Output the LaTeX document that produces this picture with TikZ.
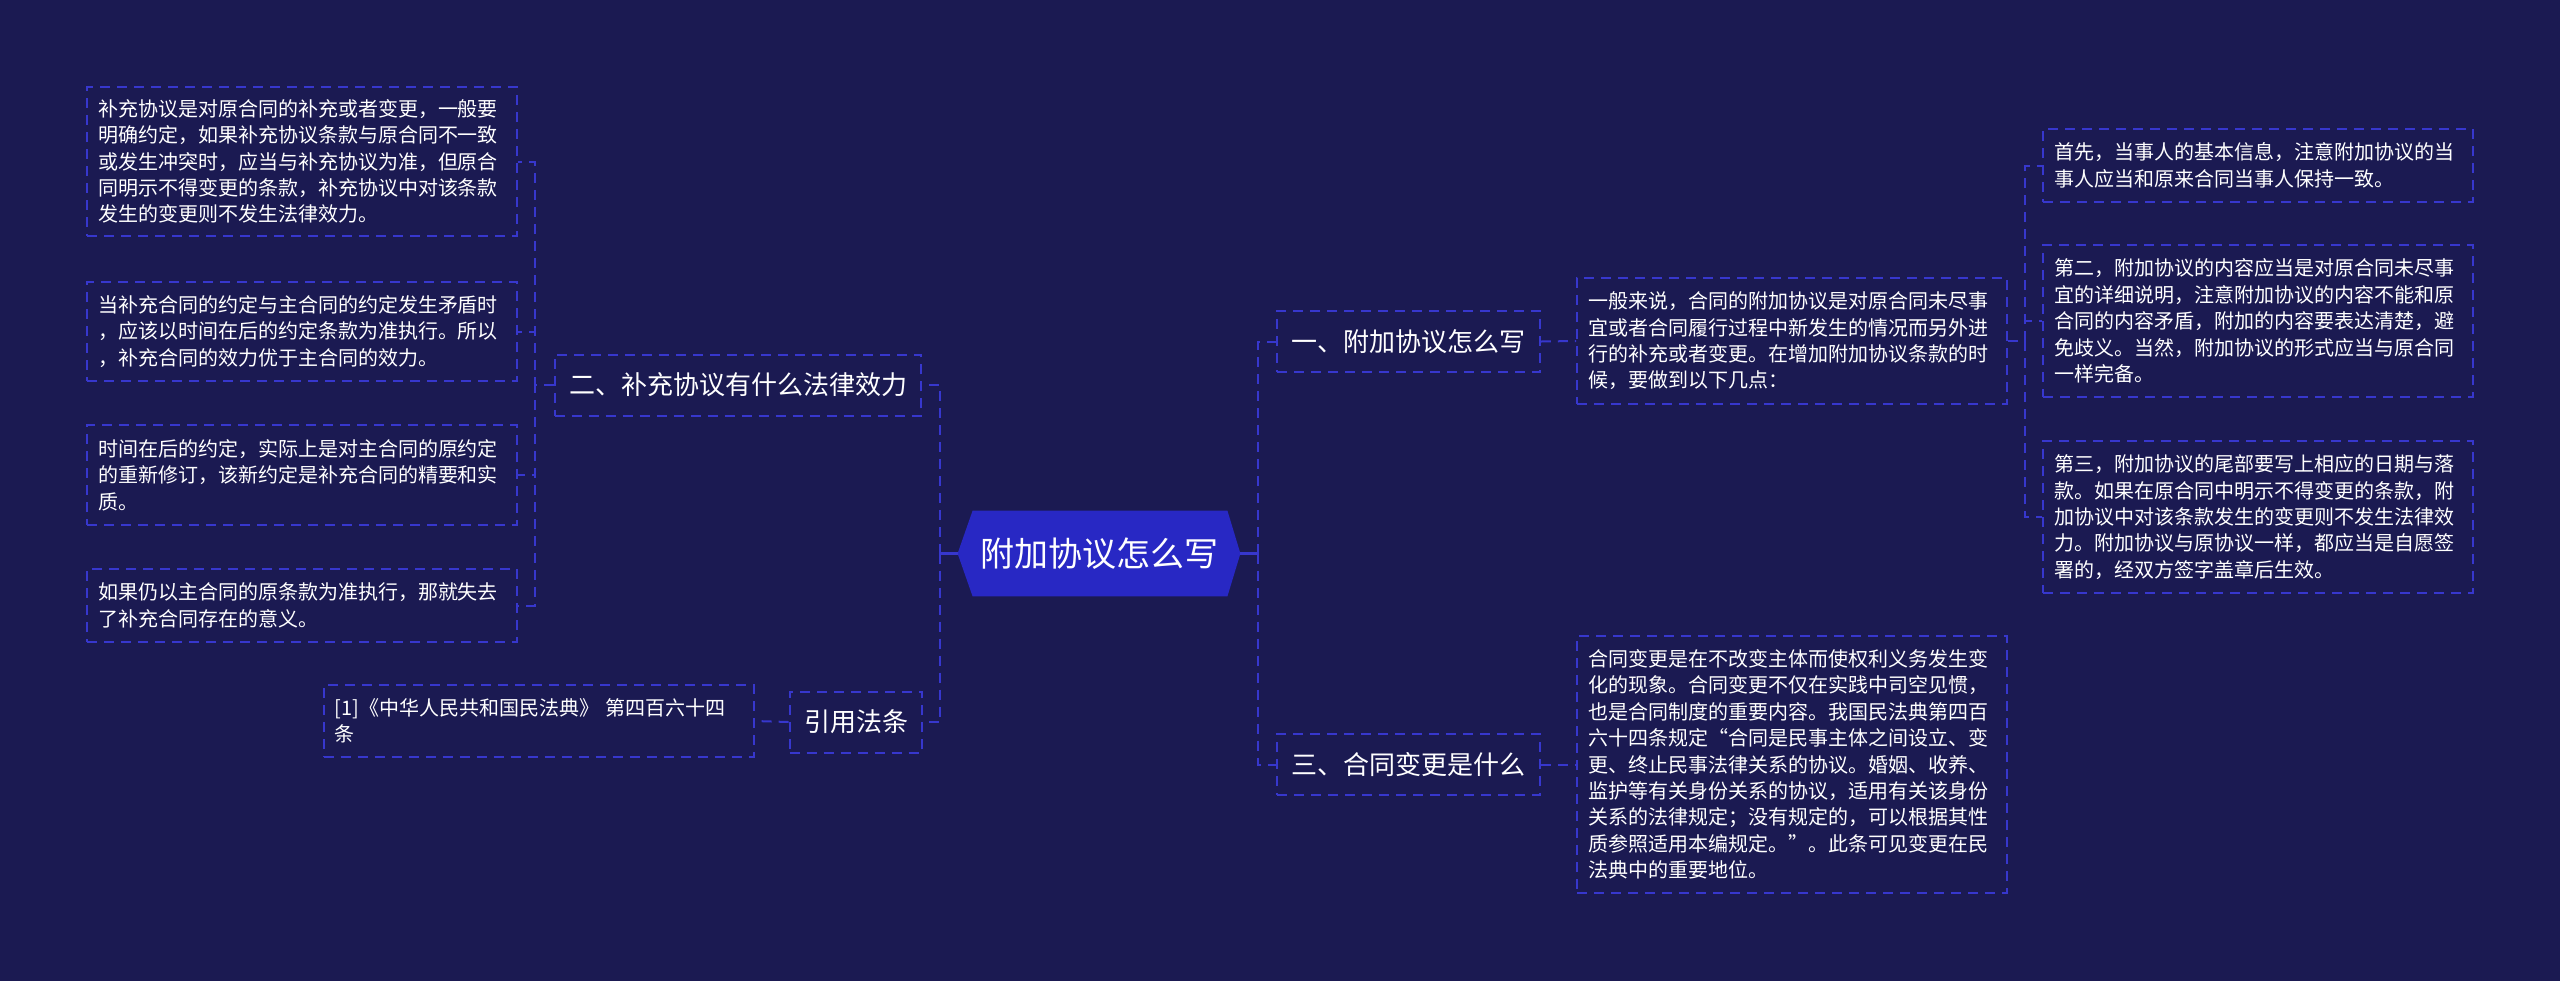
\documentclass[tikz,border=0pt]{standalone}
\usepackage{fontspec}
\newfontfamily\cjk{Noto Sans CJK SC}
\usetikzlibrary{backgrounds}
\definecolor{bgc}{RGB}{27,26,82}
\definecolor{dashc}{RGB}{55,55,205}
\definecolor{hexc}{RGB}{40,40,196}
\tikzset{
  x=0.5pt, y=-0.5pt,
  conn/.style={draw=dashc, line width=1pt, dash pattern=on 5pt off 3.5pt},
  solidc/.style={draw=dashc, line width=1.2pt},
  txtbox/.style={draw=dashc, line width=1pt, dash pattern=on 5pt off 3.5pt, text=white,
    font={\cjk\fontsize{10pt}{13.2pt}\selectfont}, align=left, text width=204pt,
    inner xsep=5.5pt, inner ysep=0pt},
  topic/.style={draw=dashc, line width=1pt, dash pattern=on 5pt off 3.5pt, text=white,
    font={\cjk\fontsize{13pt}{15pt}\selectfont}, inner xsep=7.2pt, inner ysep=0pt,
    minimum height=30.5pt},
  centre/.style={text=white, font={\cjk\fontsize{17pt}{20pt}\selectfont},
    minimum width=141pt, minimum height=42.5pt, inner sep=0pt}
}
\begin{document}
\begin{tikzpicture}
\begin{scope}[on background layer]
\fill[bgc] (0,0) rectangle (2560,981);
\end{scope}
\useasboundingbox (0,0) rectangle (2560,981);

% centre
\node[centre] (c) at (1099,553.5) {附加协议怎么写};
\begin{scope}[on background layer]
\fill[hexc] (c.west) -- ([xshift=7.5pt]c.north west) -- ([xshift=-6.5pt]c.north east) -- (c.east)
  -- ([xshift=-6.5pt]c.south east) -- ([xshift=7.5pt]c.south west) -- cycle;
\end{scope}

% topics
\node[topic] (t2) at (738,385) {二、补充协议有什么法律效力};
\node[topic] (tq) at (856,722) {引用法条};
\node[topic] (t1) at (1408.5,341.5) {一、附加协议怎么写};
\node[topic] (t3) at (1408.5,764.5) {三、合同变更是什么};

% left texts
\node[txtbox, minimum height=74.5pt] (L1) at (302,161.5) {补充协议是对原合同的补充或者变更，一般要\\明确约定，如果补充协议条款与原合同不一致\\或发生冲突时，应当与补充协议为准，但原合\\同明示不得变更的条款，补充协议中对该条款\\发生的变更则不发生法律效力。};
\node[txtbox, minimum height=49.5pt] (L2) at (302,331.5) {当补充合同的约定与主合同的约定发生矛盾时\\，应该以时间在后的约定条款为准执行。所以\\，补充合同的效力优于主合同的效力。};
\node[txtbox, minimum height=50pt] (L3) at (302,475) {时间在后的约定，实际上是对主合同的原约定\\的重新修订，该新约定是补充合同的精要和实\\质。};
\node[txtbox, minimum height=36.5pt] (L4) at (302,605.5) {如果仍以主合同的原条款为准执行，那就失去\\了补充合同存在的意义。};
\node[txtbox, minimum height=36pt] (cite) at (538.5,721) {[1]《中华人民共和国民法典》 第四百六十四\\条};

% right texts
\node[txtbox, minimum height=63pt] (D1) at (1792,341) {一般来说，合同的附加协议是对原合同未尽事\\宜或者合同履行过程中新发生的情况而另外进\\行的补充或者变更。在增加附加协议条款的时\\候，要做到以下几点：};
\node[txtbox, minimum height=36.5pt] (R1) at (2258,165.5) {首先，当事人的基本信息，注意附加协议的当\\事人应当和原来合同当事人保持一致。};
\node[txtbox, minimum height=76pt] (R2) at (2258,321) {第二，附加协议的内容应当是对原合同未尽事\\宜的详细说明，注意附加协议的内容不能和原\\合同的内容矛盾，附加的内容要表达清楚，避\\免歧义。当然，附加协议的形式应当与原合同\\一样完备。};
\node[txtbox, minimum height=76pt] (R3) at (2258,517) {第三，附加协议的尾部要写上相应的日期与落\\款。如果在原合同中明示不得变更的条款，附\\加协议中对该条款发生的变更则不发生法律效\\力。附加协议与原协议一样，都应当是自愿签\\署的，经双方签字盖章后生效。};
\node[txtbox, minimum height=128.5pt] (D3) at (1792,764.5) {合同变更是在不改变主体而使权利义务发生变\\化的现象。合同变更不仅在实践中司空见惯，\\也是合同制度的重要内容。我国民法典第四百\\六十四条规定“合同是民事主体之间设立、变\\更、终止民事法律关系的协议。婚姻、收养、\\监护等有关身份关系的协议，适用有关该身份\\关系的法律规定；没有规定的，可以根据其性\\质参照适用本编规定。”。此条可见变更在民\\法典中的重要地位。};

% trunks
\coordinate (mL) at (940,553.5);
\coordinate (mR) at (1258,553.5);
\coordinate (sL) at (535,385);
\coordinate (sR) at (2025,341);

\draw[solidc] (c.west) -- (mL);
\draw[solidc] (c.east) -- (mR);
\draw[conn] (mL) |- (t2.east);
\draw[conn] (mL) |- (tq.east);
\draw[conn] (mR) |- (t1.west);
\draw[conn] (mR) |- (t3.west);

\foreach \n in {L1,L2,L3,L4}{
  \draw[conn] (t2.west) -- (t2.west -| sL) |- (\n.east);
}
\draw[conn] (tq.west) -- (cite.east);
\draw[conn] (t1.east) -- (D1.west);
\draw[conn] (t3.east) -- (D3.west);
\foreach \n in {R1,R2,R3}{
  \draw[conn] (D1.east) -- (D1.east -| sR) |- (\n.west);
}
\end{tikzpicture}
\end{document}
